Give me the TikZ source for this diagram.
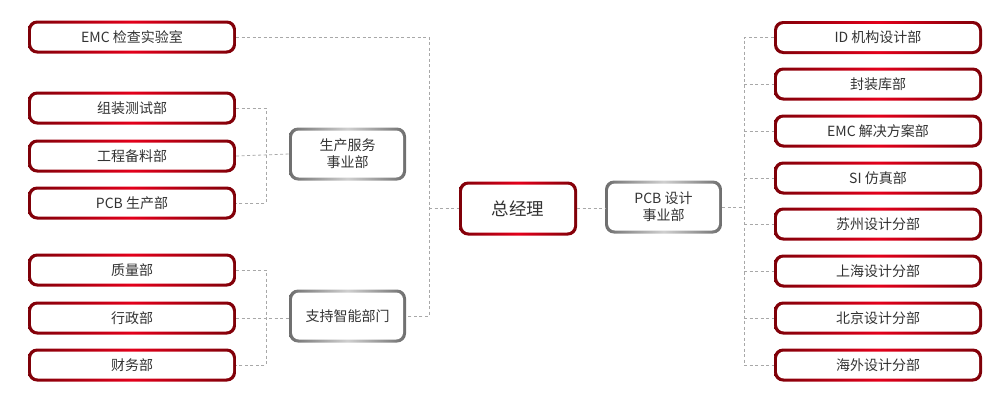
\documentclass[tikz,border=0pt]{standalone}
\usepackage{fontspec}
\setmainfont{Noto Sans CJK SC}
\usetikzlibrary{calc}
\definecolor{dkred}{HTML}{7E0008}
\definecolor{brred}{HTML}{E3001B}
\definecolor{dkgray}{HTML}{6E6E6E}
\definecolor{ltgray}{HTML}{CFCFCF}
\definecolor{txt}{HTML}{333333}
\definecolor{ln}{HTML}{A8A8A8}
\tikzset{
  basebox/.style={rounded corners=9pt, inner sep=0pt, align=center, text=txt,
    font=\fontsize{14}{17}\selectfont},
  redbox/.style={basebox, minimum width=208pt, minimum height=33pt,
    path picture={
      \shade[left color=dkred, right color=dkred, middle color=brred]
        (path picture bounding box.south west) rectangle (path picture bounding box.north east);
      \fill[white, rounded corners=7pt]
        ($(path picture bounding box.south west)+(3pt,3pt)$) rectangle ($(path picture bounding box.north east)+(-3pt,-3pt)$);
    }},
  graybox/.style={basebox, minimum width=117pt, minimum height=53pt,
    path picture={
      \shade[left color=dkgray, right color=dkgray, middle color=ltgray]
        (path picture bounding box.south west) rectangle (path picture bounding box.north east);
      \fill[white, rounded corners=7pt]
        ($(path picture bounding box.south west)+(3pt,3pt)$) rectangle ($(path picture bounding box.north east)+(-3pt,-3pt)$);
    }},
  conn/.style={draw=ln, line width=0.8pt, dash pattern=on 3pt off 2.5pt}
}
\begin{document}
\begin{tikzpicture}[x=1pt,y=-1pt]
\useasboundingbox (0,0) rectangle (1000,400);
% left column
\node[redbox] (emc) at (132,37) {EMC 检查实验室};
\node[redbox] (zz) at (132,108) {组装测试部};
\node[redbox] (gc) at (132,156) {工程备料部};
\node[redbox] (pcbsc) at (132,203) {PCB 生产部};
\node[redbox] (zl) at (132,270) {质量部};
\node[redbox] (xz) at (132,318) {行政部};
\node[redbox] (cw) at (132,365) {财务部};
% middle
\node[graybox] (scfw) at (347.5,154) {生产服务\\事业部};
\node[graybox] (zc) at (347.5,316) {支持智能部门};
\node[redbox, minimum width=118pt, minimum height=54pt, font=\fontsize{17.5}{20}\selectfont] (zjl) at (518,208.5) {总经理};
\node[graybox] (pcbsj) at (663.5,207) {PCB 设计\\事业部};
% right column
\node[redbox] (id) at (878,37.5) {ID 机构设计部};
\node[redbox] (fz) at (878,84) {封装库部};
\node[redbox] (emcjj) at (878,131) {EMC 解决方案部};
\node[redbox] (si) at (878,178) {SI 仿真部};
\node[redbox] (sz) at (878,224) {苏州设计分部};
\node[redbox] (sh) at (878,271) {上海设计分部};
\node[redbox] (bj) at (878,318) {北京设计分部};
\node[redbox] (hw) at (878,365) {海外设计分部};
% connector junctions
\coordinate (jl1) at (266,0);
\coordinate (jm) at (429,0);
\coordinate (jr) at (744,0);
% left group 1
\draw[conn] (zz.east) -| (jl1 |- pcbsc.east) -- (pcbsc.east);
\draw[conn] (gc.east) -- (scfw.west);
% left group 2
\draw[conn] (zl.east) -| (jl1 |- cw.east) -- (cw.east);
\draw[conn] (xz.east) -- (zc.west |- xz.east);
% main trunk
\draw[conn] (emc.east) -| (jm |- zc.east) -- (zc.east);
\draw[conn] (jm |- zjl.west) -- (zjl.west);
\draw[conn] (zjl.east) -- (pcbsj.west |- zjl.east);
% right trunk
\draw[conn] (id.west) -| (jr |- hw.west) -- (hw.west);
\draw[conn] (pcbsj.east) -- (jr |- pcbsj.east);
\foreach \n in {fz,emcjj,si,sz,sh,bj}{\draw[conn] (jr |- \n.west) -- (\n.west);}
\end{tikzpicture}
\end{document}
